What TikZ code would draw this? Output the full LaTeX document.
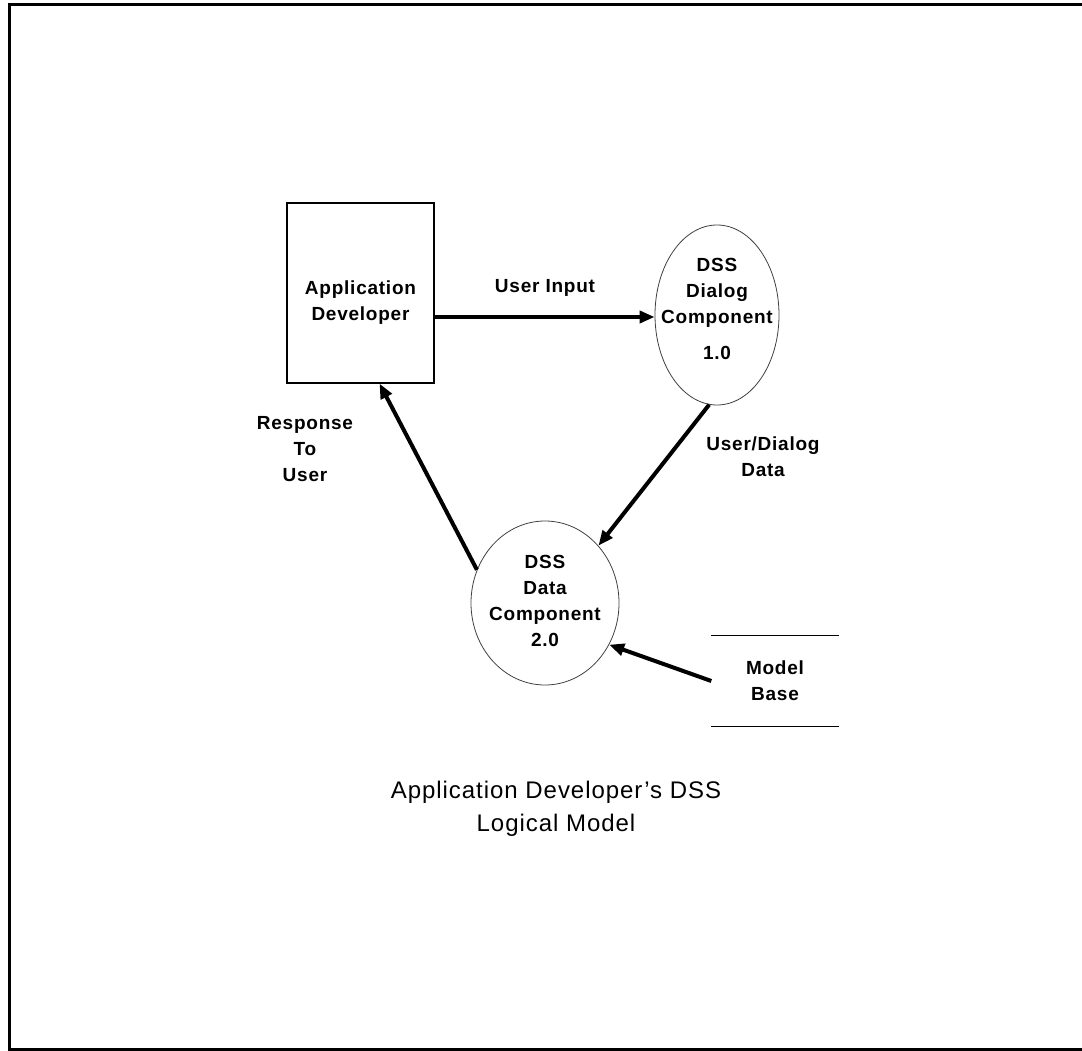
\documentclass[tikz,border=0pt]{standalone}
\usepackage{fontspec}
\setmainfont{Liberation Sans}
\usetikzlibrary{shapes.geometric,arrows.meta}
\newcommand{\lblfont}{\bfseries\fontsize{19}{26}\selectfont\addfontfeature{LetterSpace=4}}
\newcommand{\capfont}{\fontsize{24}{33}\selectfont\addfontfeature{LetterSpace=4}}
\begin{document}
\begin{tikzpicture}[x=1pt,y=-1pt,
  lbl/.style={font=\lblfont,align=center,inner sep=0pt},
  proc/.style={draw=black!75,line width=0.8pt,ellipse,inner sep=0pt},
  entity/.style={draw,line width=1.1pt,minimum width=147pt,minimum height=180pt,inner sep=0pt},
  store/.style={minimum width=127pt,minimum height=91pt,inner sep=0pt,font=\lblfont,align=center},
  flow/.style={line width=4pt,-{Triangle[length=15pt,width=12pt]}},
  frameline/.style={line width=3pt}]
\useasboundingbox (0,0) rectangle (1082,1051);
% outer frame
\draw[frameline] (1090,5) -- (9,5) -- (9,1049) -- (1090,1049);
% nodes
\node[entity,label={[lbl,yshift=-10pt]center:{Application\\Developer}}] (ad) at (360.5,293) {};
\node[proc,minimum width=124pt,minimum height=180pt,
      label={[lbl,yshift=6pt]center:{DSS\\Dialog\\Component\\[10pt]1.0}}] (dlg) at (717,315) {};
\node[proc,minimum width=148pt,minimum height=164pt,
      label={[lbl,yshift=2pt]center:{DSS\\Data\\Component\\2.0}}] (dat) at (545,603) {};
\node[store] (mb) at (775,681) {Model\\Base};
\draw[line width=1.1pt] (mb.north west) -- (mb.north east);
\draw[line width=1.1pt] (mb.south west) -- (mb.south east);
% flows
\draw[flow] ([yshift=-24pt]ad.east) -- ([yshift=-2pt]dlg.west);
\draw[flow] (dlg.265) -- (dat.47);
\draw[flow] (dat.154) -- ([xshift=19pt]ad.south);
\draw[flow] (mb.west) -- (dat.-33);
% labels
\node[lbl] (lui) at (545,288) {User Input};
\node[lbl] (lud) at (763,457) {User/Dialog\\Data};
\node[lbl] (lru) at (305,449) {Response\\To\\User};
% caption
\node[font=\capfont,align=center,inner sep=0pt] (cap) at (556,809) {Application Developer's DSS\\Logical Model};
\end{tikzpicture}
\end{document}
